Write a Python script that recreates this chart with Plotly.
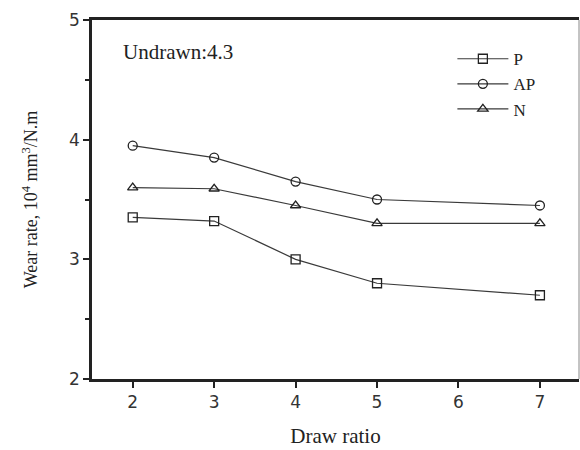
import plotly.graph_objects as go

draw_ratio = [2, 3, 4, 5, 7]
p_vals = [3.35, 3.32, 3.00, 2.80, 2.70]
ap_vals = [3.95, 3.85, 3.65, 3.50, 3.45]
n_vals = [3.60, 3.59, 3.45, 3.30, 3.30]
series_names = ["P", "AP", "N"]
symbols = ["square-open", "circle-open", "triangle-up-open"]

serif = "Liberation Serif, Times New Roman, serif"
sans = "DejaVu Sans, Arial, sans-serif"

fig = go.Figure()
for name, vals, sym in zip(series_names, [p_vals, ap_vals, n_vals], symbols):
    fig.add_trace(go.Scatter(
        x=draw_ratio, y=vals, name=name, mode="lines+markers",
        line=dict(color="#3a3a3a", width=1.2),
        marker=dict(symbol=sym, size=9, color="#222222", line=dict(width=1.3, color="#222222")),
    ))

fig.update_layout(
    width=580, height=450,
    margin=dict(l=92, r=1, t=20, b=71),
    paper_bgcolor="white", plot_bgcolor="white",
    showlegend=True,
    legend=dict(x=0.74, y=0.941, xanchor="left", yanchor="top",
                font=dict(family=serif, size=17, color="#222"),
                bgcolor="rgba(0,0,0,0)", itemwidth=51, tracegroupgap=0),
    xaxis=dict(range=[1.5, 7.48], tickvals=[2, 3, 4, 5, 6, 7], ticks="outside",
               ticklen=6, tickwidth=2, tickcolor="#222", showgrid=False, zeroline=False,
               showline=True, linewidth=2.5, linecolor="#222", mirror=True,
               tickfont=dict(family=sans, size=17, color="#333"),
               title=dict(text="Draw ratio", font=dict(family=serif, size=21, color="#222"), standoff=18)),
    yaxis=dict(range=[2, 5], tickvals=[2, 3, 4, 5], ticks="outside",
               ticklen=6, tickwidth=2, tickcolor="#222", showgrid=False, zeroline=False,
               showline=True, linewidth=2.5, linecolor="#222",
               minor=dict(tickvals=[2.5, 3.5, 4.5], ticks="outside", ticklen=4, tickwidth=1.5, tickcolor="#222"),
               tickfont=dict(family=sans, size=17, color="#333"),
               title=dict(text="Wear rate, 10<sup>4</sup> mm<sup>3</sup>/N.m",
                          font=dict(family=serif, size=18, color="#222"), standoff=27)),
    shapes=[dict(type="line", xref="paper", yref="paper", x0=1, x1=1, y0=0, y1=1,
                 line=dict(color="#888", width=1))],
    annotations=[dict(text="Undrawn:4.3", xref="paper", yref="paper", x=0.06, y=0.91,
                      xanchor="left", yanchor="middle", showarrow=False,
                      font=dict(family=serif, size=21, color="#222"))],
)

fig.write_html("out.html", config={"displayModeBar": False},
               post_script="document.body.style.margin='0px';")
